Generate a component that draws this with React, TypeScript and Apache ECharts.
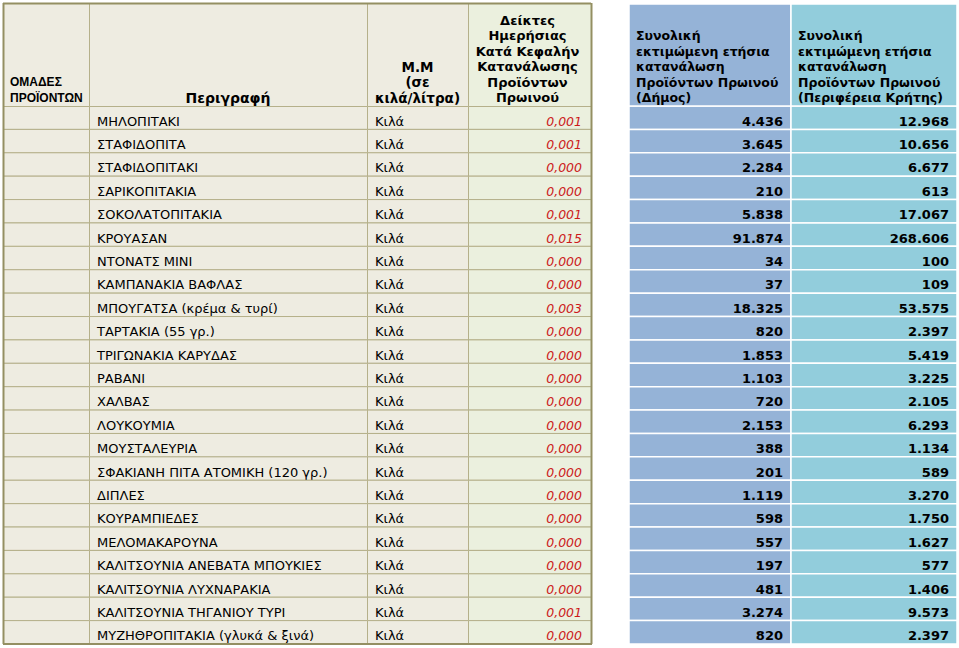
import { useEffect, useRef } from "react";
import * as echarts from "echarts";

// ---------- data ----------
const groupHeader = ["ΟΜΑΔΕΣ", "ΠΡΟΪΟΝΤΩΝ"];
const descHeader = ["Περιγραφή"];
const unitHeader = ["Μ.Μ", "(σε", "κιλά/λίτρα)"];
const indexHeader = ["Δείκτες", "Ημερήσιας", "Κατά Κεφαλήν", "Κατανάλωσης", "Προϊόντων", "Πρωινού"];
const muniHeader = ["Συνολική", "εκτιμώμενη ετήσια", "κατανάλωση", "Προϊόντων Πρωινού", "(Δήμος)"];
const regionHeader = ["Συνολική", "εκτιμώμενη ετήσια", "κατανάλωση", "Προϊόντων Πρωινού", "(Περιφέρεια Κρήτης)"];

const products = [
  "ΜΗΛΟΠΙΤΑΚΙ",
  "ΣΤΑΦΙΔΟΠΙΤΑ",
  "ΣΤΑΦΙΔΟΠΙΤΑΚΙ",
  "ΣΑΡΙΚΟΠΙΤΑΚΙΑ",
  "ΣΟΚΟΛΑΤΟΠΙΤΑΚΙΑ",
  "ΚΡΟΥΑΣΑΝ",
  "ΝΤΟΝΑΤΣ ΜΙΝΙ",
  "ΚΑΜΠΑΝΑΚΙΑ ΒΑΦΛΑΣ",
  "ΜΠΟΥΓΑΤΣΑ (κρέμα & τυρί)",
  "ΤΑΡΤΑΚΙΑ (55 γρ.)",
  "ΤΡΙΓΩΝΑΚΙΑ ΚΑΡΥΔΑΣ",
  "ΡΑΒΑΝΙ",
  "ΧΑΛΒΑΣ",
  "ΛΟΥΚΟΥΜΙΑ",
  "ΜΟΥΣΤΑΛΕΥΡΙΑ",
  "ΣΦΑΚΙΑΝΗ ΠΙΤΑ ΑΤΟΜΙΚΗ (120 γρ.)",
  "ΔΙΠΛΕΣ",
  "ΚΟΥΡΑΜΠΙΕΔΕΣ",
  "ΜΕΛΟΜΑΚΑΡΟΥΝΑ",
  "ΚΑΛΙΤΣΟΥΝΙΑ ΑΝΕΒΑΤΑ ΜΠΟΥΚΙΕΣ",
  "ΚΑΛΙΤΣΟΥΝΙΑ ΛΥΧΝΑΡΑΚΙΑ",
  "ΚΑΛΙΤΣΟΥΝΙΑ ΤΗΓΑΝΙΟΥ ΤΥΡΙ",
  "ΜΥΖΗΘΡΟΠΙΤΑΚΙΑ (γλυκά & ξινά)",
];

const units = [
  "Κιλά", "Κιλά", "Κιλά", "Κιλά", "Κιλά", "Κιλά", "Κιλά", "Κιλά",
  "Κιλά", "Κιλά", "Κιλά", "Κιλά", "Κιλά", "Κιλά", "Κιλά", "Κιλά",
  "Κιλά", "Κιλά", "Κιλά", "Κιλά", "Κιλά", "Κιλά", "Κιλά",
];

const dailyIndex = [
  0.001, 0.001, 0.0, 0.0, 0.001, 0.015, 0.0, 0.0, 0.003, 0.0, 0.0, 0.0,
  0.0, 0.0, 0.0, 0.0, 0.0, 0.0, 0.0, 0.0, 0.0, 0.001, 0.0,
];

const municipality = [
  4436, 3645, 2284, 210, 5838, 91874, 34, 37, 18325, 820, 1853, 1103,
  720, 2153, 388, 201, 1119, 598, 557, 197, 481, 3274, 820,
];

const regionCrete = [
  12968, 10656, 6677, 613, 17067, 268606, 100, 109, 53575, 2397, 5419, 3225,
  2105, 6293, 1134, 589, 3270, 1750, 1627, 577, 1406, 9573, 2397,
];

// ---------- layout / style ----------
const W = 959;
const H = 648;
const LEFT_COLS = [3, 89, 367, 468, 591];
const RIGHT_COLS = [629, 791, 957];
const HEAD_TOP = 3;
const BODY_TOP = 106;
const BODY_BOTTOM = 644;

const BEIGE = "#eeece1";
const OLIVE_CELL = "#ebf0de";
const GRID_LINE = "#b5b08a";
const OUTER_LINE = "#948f62";
const BLUE1 = "#95b3d7";
const BLUE2 = "#92cddc";
const RED = "#cc1a1a";
const FONT = "'DejaVu Sans', Verdana, sans-serif";
const NARROW = "'Liberation Sans Narrow', 'Liberation Sans', Arial, sans-serif";

const fmtIndex = (v: number) => v.toFixed(3).replace(".", ",");
const fmtThousands = (v: number) => String(v).replace(/\B(?=(\d{3})+(?!\d))/g, ".");

const HEAD_LINE_Y = [20, 35.5, 51, 66.5, 82, 97.5];

function headerLines(
  lines: string[],
  x: number,
  align: string,
  size: number,
  family: string = FONT
) {
  const start = HEAD_LINE_Y.length - lines.length;
  return lines.map((t, k) => ({
    type: "text",
    z: 50,
    style: {
      text: t,
      x,
      y: HEAD_LINE_Y[start + k],
      align,
      verticalAlign: "middle",
      fontSize: size,
      fontWeight: "bold",
      fontFamily: family,
      fill: "#000",
    },
  }));
}

export default function App() {
  const ref = useRef<HTMLDivElement>(null);

  useEffect(() => {
    if (!ref.current) return;
    const chart = echarts.init(ref.current, undefined, { renderer: "svg" });

    const headRects: any[] = [];
    for (let k = 0; k < LEFT_COLS.length - 1; k++) {
      headRects.push({
        type: "rect",
        z: 10,
        shape: {
          x: LEFT_COLS[k] + 0.5,
          y: HEAD_TOP + 0.5,
          width: LEFT_COLS[k + 1] - LEFT_COLS[k],
          height: BODY_TOP - HEAD_TOP,
        },
        style: { fill: k === 3 ? OLIVE_CELL : BEIGE, stroke: GRID_LINE, lineWidth: 1 },
      });
    }
    for (let k = 0; k < RIGHT_COLS.length - 1; k++) {
      headRects.push({
        type: "rect",
        z: 10,
        shape: {
          x: RIGHT_COLS[k],
          y: HEAD_TOP + 1,
          width: RIGHT_COLS[k + 1] - RIGHT_COLS[k],
          height: BODY_TOP - HEAD_TOP - 1,
        },
        style: { fill: k === 0 ? BLUE1 : BLUE2, stroke: "#ffffff", lineWidth: 1.5 },
      });
    }

    const borders = [
      { x1: LEFT_COLS[0] + 0.5, y1: HEAD_TOP, x2: LEFT_COLS[0] + 0.5, y2: BODY_BOTTOM },
      { x1: LEFT_COLS[0], y1: HEAD_TOP + 0.5, x2: LEFT_COLS[4], y2: HEAD_TOP + 0.5 },
      { x1: LEFT_COLS[4] + 0.5, y1: HEAD_TOP, x2: LEFT_COLS[4] + 0.5, y2: BODY_BOTTOM },
      { x1: LEFT_COLS[0], y1: BODY_BOTTOM, x2: LEFT_COLS[4] + 1, y2: BODY_BOTTOM },
    ].map((s) => ({
      type: "line",
      z: 60,
      shape: s,
      style: { stroke: OUTER_LINE, lineWidth: 2 },
    }));

    const headerTexts = [
      ...headerLines(groupHeader, 10, "left", 12, NARROW),
      ...headerLines(descHeader, (LEFT_COLS[1] + LEFT_COLS[2]) / 2, "center", 14),
      ...headerLines(unitHeader, (LEFT_COLS[2] + LEFT_COLS[3]) / 2, "center", 13.5),
      ...headerLines(indexHeader, (LEFT_COLS[3] + LEFT_COLS[4]) / 2 - 2, "center", 13),
      ...headerLines(muniHeader, RIGHT_COLS[0] + 7, "left", 12.5),
      ...headerLines(regionHeader, RIGHT_COLS[1] + 7, "left", 12.5),
    ];

    const option: any = {
      animation: false,
      backgroundColor: "#ffffff",
      grid: { left: 0, right: 0, top: BODY_TOP, bottom: H - BODY_BOTTOM, containLabel: false },
      xAxis: { type: "value", min: 0, max: W, show: false },
      yAxis: { type: "category", data: products, inverse: true, show: false },
      graphic: [...headRects, ...headerTexts, ...borders],
      series: [
        {
          type: "custom",
          clip: false,
          data: products.map((_, i) => [0, i]),
          encode: { x: 0, y: 1 },
          renderItem: (params: any, api: any) => {
            const i = params.dataIndex;
            const c = api.coord([0, i]);
            const h = api.size([0, 1])[1];
            const top = c[1] - h / 2;
            const X = (x: number) => api.coord([x, i])[0];
            const ty = c[1] + 3.5;
            const children: any[] = [];
            for (let k = 0; k < LEFT_COLS.length - 1; k++) {
              children.push({
                type: "rect",
                shape: {
                  x: X(LEFT_COLS[k]) + 0.5,
                  y: top,
                  width: X(LEFT_COLS[k + 1]) - X(LEFT_COLS[k]),
                  height: h,
                },
                style: { fill: k === 3 ? OLIVE_CELL : BEIGE, stroke: GRID_LINE, lineWidth: 1 },
              });
            }
            for (let k = 0; k < RIGHT_COLS.length - 1; k++) {
              children.push({
                type: "rect",
                shape: {
                  x: X(RIGHT_COLS[k]),
                  y: top,
                  width: X(RIGHT_COLS[k + 1]) - X(RIGHT_COLS[k]),
                  height: h,
                },
                style: { fill: k === 0 ? BLUE1 : BLUE2, stroke: "#ffffff", lineWidth: 1.5 },
              });
            }
            const txt = (text: string, x: number, align: string, extra: any) => ({
              type: "text",
              style: {
                text,
                x,
                y: ty,
                align,
                verticalAlign: "middle",
                fontFamily: FONT,
                fontSize: 13,
                fill: "#000",
                ...extra,
              },
            });
            children.push(txt(products[i], X(LEFT_COLS[1] + 8), "left", {}));
            children.push(txt(units[i], X(LEFT_COLS[2] + 8), "left", {}));
            children.push(
              txt(fmtIndex(dailyIndex[i]), X(LEFT_COLS[4] - 9), "right", {
                fontStyle: "italic",
                fontSize: 12.5,
                fill: RED,
              })
            );
            children.push(
              txt(fmtThousands(municipality[i]), X(RIGHT_COLS[1] - 8), "right", {
                fontWeight: "bold",
              })
            );
            children.push(
              txt(fmtThousands(regionCrete[i]), X(RIGHT_COLS[2] - 8), "right", {
                fontWeight: "bold",
              })
            );
            return { type: "group", children };
          },
        },
      ],
    };

    chart.setOption(option);
    return () => chart.dispose();
  }, []);

  return (
    <div
      ref={ref}
      style={{ position: "absolute", left: 0, top: 0, width: W, height: H }}
    />
  );
}
